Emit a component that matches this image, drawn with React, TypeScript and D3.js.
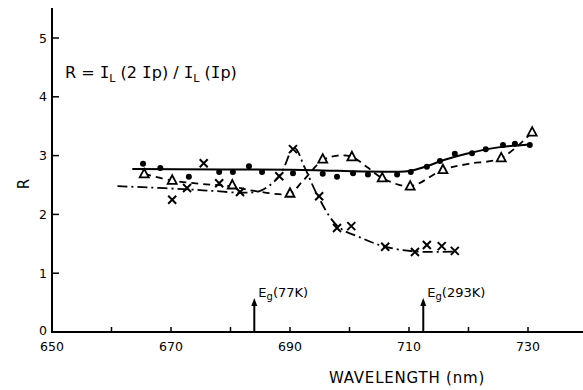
import React from "react";
import * as d3 from "d3";

const W = 583;
const H = 390;

// dots + solid fitted line
const dotWl = [665.3, 668.2, 673.0, 678.1, 680.4, 683.1, 685.3, 690.5, 695.5, 697.9, 700.6, 703.1, 708.0, 710.3, 713.0, 715.2, 717.7, 720.6, 722.9, 725.8, 727.8, 730.3];
const dotR = [2.86, 2.79, 2.64, 2.72, 2.72, 2.82, 2.72, 2.70, 2.69, 2.64, 2.70, 2.68, 2.68, 2.72, 2.81, 2.91, 3.03, 3.04, 3.11, 3.18, 3.20, 3.18];
const solidWl = [663.5, 690, 710, 713, 716, 720, 725, 730.3];
const solidR = [2.77, 2.76, 2.74, 2.82, 2.93, 3.04, 3.14, 3.19];

// triangles + dashed line
const triWl = [665.5, 670.2, 680.3, 690.0, 695.5, 700.4, 705.5, 710.2, 715.7, 725.5, 730.7];
const triR = [2.69, 2.58, 2.50, 2.36, 2.94, 2.98, 2.62, 2.48, 2.76, 2.96, 3.40];
const dashWl = [665.5, 670, 675, 680, 684, 690, 692, 695.5, 698, 700.4, 703, 705.5, 710.2, 715.7, 720, 725.5, 730.7];
const dashR = [2.69, 2.58, 2.52, 2.48, 2.40, 2.36, 2.55, 2.92, 3.0, 2.98, 2.80, 2.62, 2.48, 2.76, 2.86, 2.96, 3.40];

// crosses + dash-dot line
const crossWl = [670.2, 672.7, 675.5, 678.1, 681.6, 688.2, 690.5, 694.9, 697.9, 700.3, 706.0, 711.0, 713.0, 715.5, 717.7];
const crossR = [2.25, 2.45, 2.87, 2.53, 2.38, 2.65, 3.11, 2.31, 1.77, 1.80, 1.45, 1.36, 1.48, 1.46, 1.38];
const dashDotWl = [661, 666, 672, 677, 682, 685, 688.2, 690.7, 692.5, 694.7, 698, 702, 706, 711, 718];
const dashDotR = [2.48, 2.46, 2.43, 2.40, 2.37, 2.40, 2.65, 3.13, 2.79, 2.31, 1.80, 1.60, 1.45, 1.37, 1.37];

// band gap markers
const egWl = [684, 712.4];
const egLabels = ["77K", "293K"];

const yTicks = [0, 1, 2, 3, 4, 5];
const xTicks = [660, 670, 680, 690, 700, 710, 720, 730];
const xLabels = [650, 670, 690, 710, 730];

const x = d3.scaleLinear().domain([650, 740]).range([52, 587.5]);
const y = d3.scaleLinear().domain([0, 5]).range([332, 38]);

const font = "'DejaVu Sans', sans-serif";
const mono = "'DejaVu Sans Mono', monospace";

function pts(a: number[], b: number[]): [number, number][] {
  return a.map((v, i) => [v, b[i]]);
}

export default function App() {
  const curve = d3
    .line<[number, number]>()
    .x((d) => x(d[0]))
    .y((d) => y(d[1]))
    .curve(d3.curveCatmullRom.alpha(0.5));

  const tri = (cx: number, cy: number) =>
    `M${cx},${cy - 5}L${cx + 4.5},${cy + 3.5}L${cx - 4.5},${cy + 3.5}Z`;

  return (
    <div style={{ position: "absolute", left: 0, top: 0 }}>
      <svg width={W} height={H} style={{ display: "block", background: "#fff" }}>
        {/* axes */}
        <line x1={x(650)} x2={x(650)} y1={8} y2={y(0)} stroke="#000" strokeWidth={2} />
        <line x1={x(650) - 1} x2={W} y1={y(0)} y2={y(0)} stroke="#000" strokeWidth={2} />
        {yTicks.map((t) => (
          <g key={t}>
            <line x1={x(650)} x2={x(650) + 7} y1={y(t)} y2={y(t)} stroke="#000" strokeWidth={1.5} />
            <text x={47} y={t === 0 ? y(t) - 2 : y(t)} dy="0.36em" textAnchor="end" fontFamily={font} fontSize={12.5}>
              {t}
            </text>
          </g>
        ))}
        {xTicks.map((t) => (
          <line key={t} x1={x(t)} x2={x(t)} y1={y(0)} y2={y(0) - 5} stroke="#000" strokeWidth={1.5} />
        ))}
        {xLabels.map((t) => (
          <text key={t} x={x(t)} y={351} textAnchor="middle" fontFamily={font} fontSize={12.5}>
            {t}
          </text>
        ))}
        <text
          transform={`translate(29,${184}) rotate(-90)`}
          textAnchor="middle"
          fontFamily={font}
          fontSize={15}
        >
          R
        </text>
        <text x={407} y={383} textAnchor="middle" fontFamily={font} fontSize={15} letterSpacing={0.8}>
          WAVELENGTH (nm)
        </text>

        {/* equation */}
        <text x={65} y={78} fontFamily={font} fontSize={16}>
          R = <tspan fontFamily={mono}>I</tspan>
          <tspan fontSize={11} dy={4}>L</tspan>
          <tspan dy={-4}> (2 </tspan>
          <tspan fontFamily={mono}>I</tspan>p) / <tspan fontFamily={mono}>I</tspan>
          <tspan fontSize={11} dy={4}>L</tspan>
          <tspan dy={-4}> (</tspan>
          <tspan fontFamily={mono}>I</tspan>p)
        </text>

        {/* fitted lines */}
        <path d={curve(pts(solidWl, solidR)) || ""} fill="none" stroke="#000" strokeWidth={2} />
        <path d={curve(pts(dashWl, dashR)) || ""} fill="none" stroke="#000" strokeWidth={1.8} strokeDasharray="7 5" />
        <path d={curve(pts(dashDotWl, dashDotR)) || ""} fill="none" stroke="#000" strokeWidth={1.8} strokeDasharray="10 4 2 4" />

        {/* markers */}
        {dotWl.map((w, i) => (
          <circle key={"d" + i} cx={x(w)} cy={y(dotR[i])} r={3} fill="#000" />
        ))}
        {triWl.map((w, i) => (
          <path key={"t" + i} d={tri(x(w), y(triR[i]))} fill="#fff" stroke="#000" strokeWidth={1.8} />
        ))}
        {crossWl.map((w, i) => {
          const cx = x(w);
          const cy = y(crossR[i]);
          return (
            <path
              key={"c" + i}
              d={`M${cx - 4},${cy - 4}L${cx + 4},${cy + 4}M${cx + 4},${cy - 4}L${cx - 4},${cy + 4}`}
              stroke="#000"
              strokeWidth={2}
            />
          );
        })}

        {/* band gap arrows */}
        {egWl.map((w, i) => {
          const ax = x(w);
          return (
            <g key={"e" + i}>
              <line x1={ax} x2={ax} y1={y(0)} y2={302} stroke="#000" strokeWidth={2} />
              <path d={`M${ax},${298}L${ax + 3},${306}L${ax - 3},${306}Z`} fill="#000" />
              <text x={ax + 4} y={297} fontFamily={font} fontSize={13}>
                E<tspan fontSize={10} dy={3}>g</tspan>
                <tspan dy={-3}>({egLabels[i]})</tspan>
              </text>
            </g>
          );
        })}
      </svg>
    </div>
  );
}
